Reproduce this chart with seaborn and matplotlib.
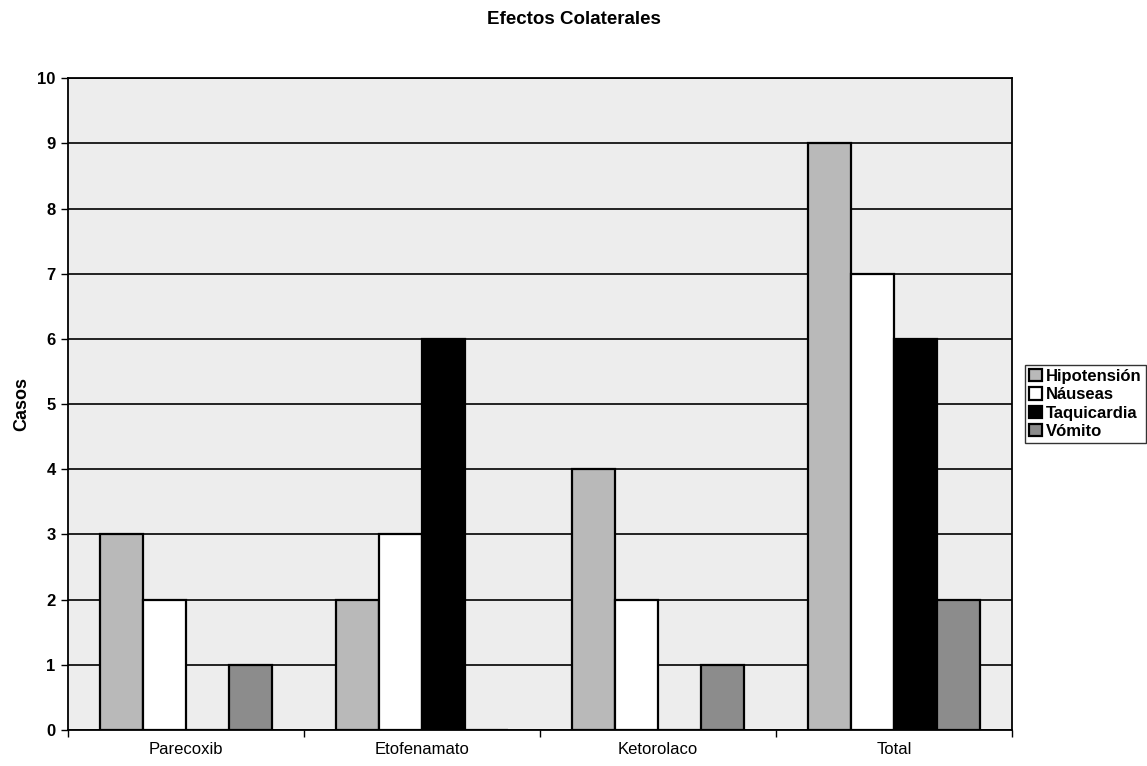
import matplotlib
matplotlib.use("Agg")
import matplotlib.pyplot as plt
from matplotlib.ticker import FixedLocator
import seaborn as sns
import pandas as pd

# Side effects per drug and overall total
grupos = ["Parecoxib", "Etofenamato", "Ketorolaco", "Total"]
efectos = ["Hipotensión", "Náuseas", "Taquicardia", "Vómito"]
hipotension = [3, 2, 4, 9]
nauseas = [2, 3, 2, 7]
taquicardia = [0, 6, 0, 6]
vomito = [1, 0, 1, 2]
y_ticks = list(range(0, 11))

colores = ["#b9b9b9", "#ffffff", "#000000", "#8c8c8c"]

df = pd.DataFrame({
    "grupo": grupos * 4,
    "efecto": [e for e in efectos for _ in grupos],
    "casos": hipotension + nauseas + taquicardia + vomito,
})

sns.set_theme(style="white")
plt.rcParams["font.family"] = ["Liberation Sans", "DejaVu Sans"]
plt.rcParams["text.color"] = "black"
plt.rcParams["axes.labelcolor"] = "black"
plt.rcParams["xtick.color"] = "black"
plt.rcParams["ytick.color"] = "black"

fig = plt.figure(figsize=(11.47, 7.66), dpi=100)
ax = fig.add_axes([0.0593, 0.047, 0.8230, 0.851])
ax.set_facecolor("#ededed")

sns.barplot(data=df, x="grupo", y="casos", hue="efecto", order=grupos,
            hue_order=efectos, palette=colores, width=0.73,
            edgecolor="black", linewidth=1.6, saturation=1, ax=ax, zorder=3)

ax.set_ylim(0, 10)
ax.set_xlim(-0.5, 3.5)
ax.set_yticks(y_ticks)
ax.yaxis.grid(True, color="black", linewidth=1.2, zorder=0)
ax.set_axisbelow(True)

for s in ax.spines.values():
    s.set_color("black")
    s.set_linewidth(1.3)

ax.tick_params(axis="y", which="major", left=True, length=5, width=1,
               direction="out", labelsize=12, color="black", pad=4)
ax.tick_params(axis="x", which="major", bottom=False, length=0,
               labelsize=12, pad=9)
ax.xaxis.set_minor_locator(FixedLocator([-0.5, 0.5, 1.5, 2.5, 3.5]))
ax.tick_params(axis="x", which="minor", bottom=True, length=5, width=1,
               direction="out", color="black")

for lab in ax.get_yticklabels():
    lab.set_fontweight("bold")

ax.set_xlabel("")
ax.set_ylabel("Casos", fontsize=13, fontweight="bold", labelpad=5)

fig.suptitle("Efectos Colaterales", x=0.5, y=0.985, fontsize=13.5,
             fontweight="bold")

handles, labels = ax.get_legend_handles_labels()
leg = ax.legend(handles, labels, loc="center left",
                bbox_to_anchor=(1.014, 0.5), frameon=True, fancybox=False,
                edgecolor="black", prop={"size": 12, "weight": "bold"},
                handlelength=0.75, handleheight=0.75, handletextpad=0.25,
                borderpad=0.25, labelspacing=0.2, borderaxespad=0)
leg.get_frame().set_linewidth(1.0)

fig.savefig("out.png", dpi=100, facecolor="white")
